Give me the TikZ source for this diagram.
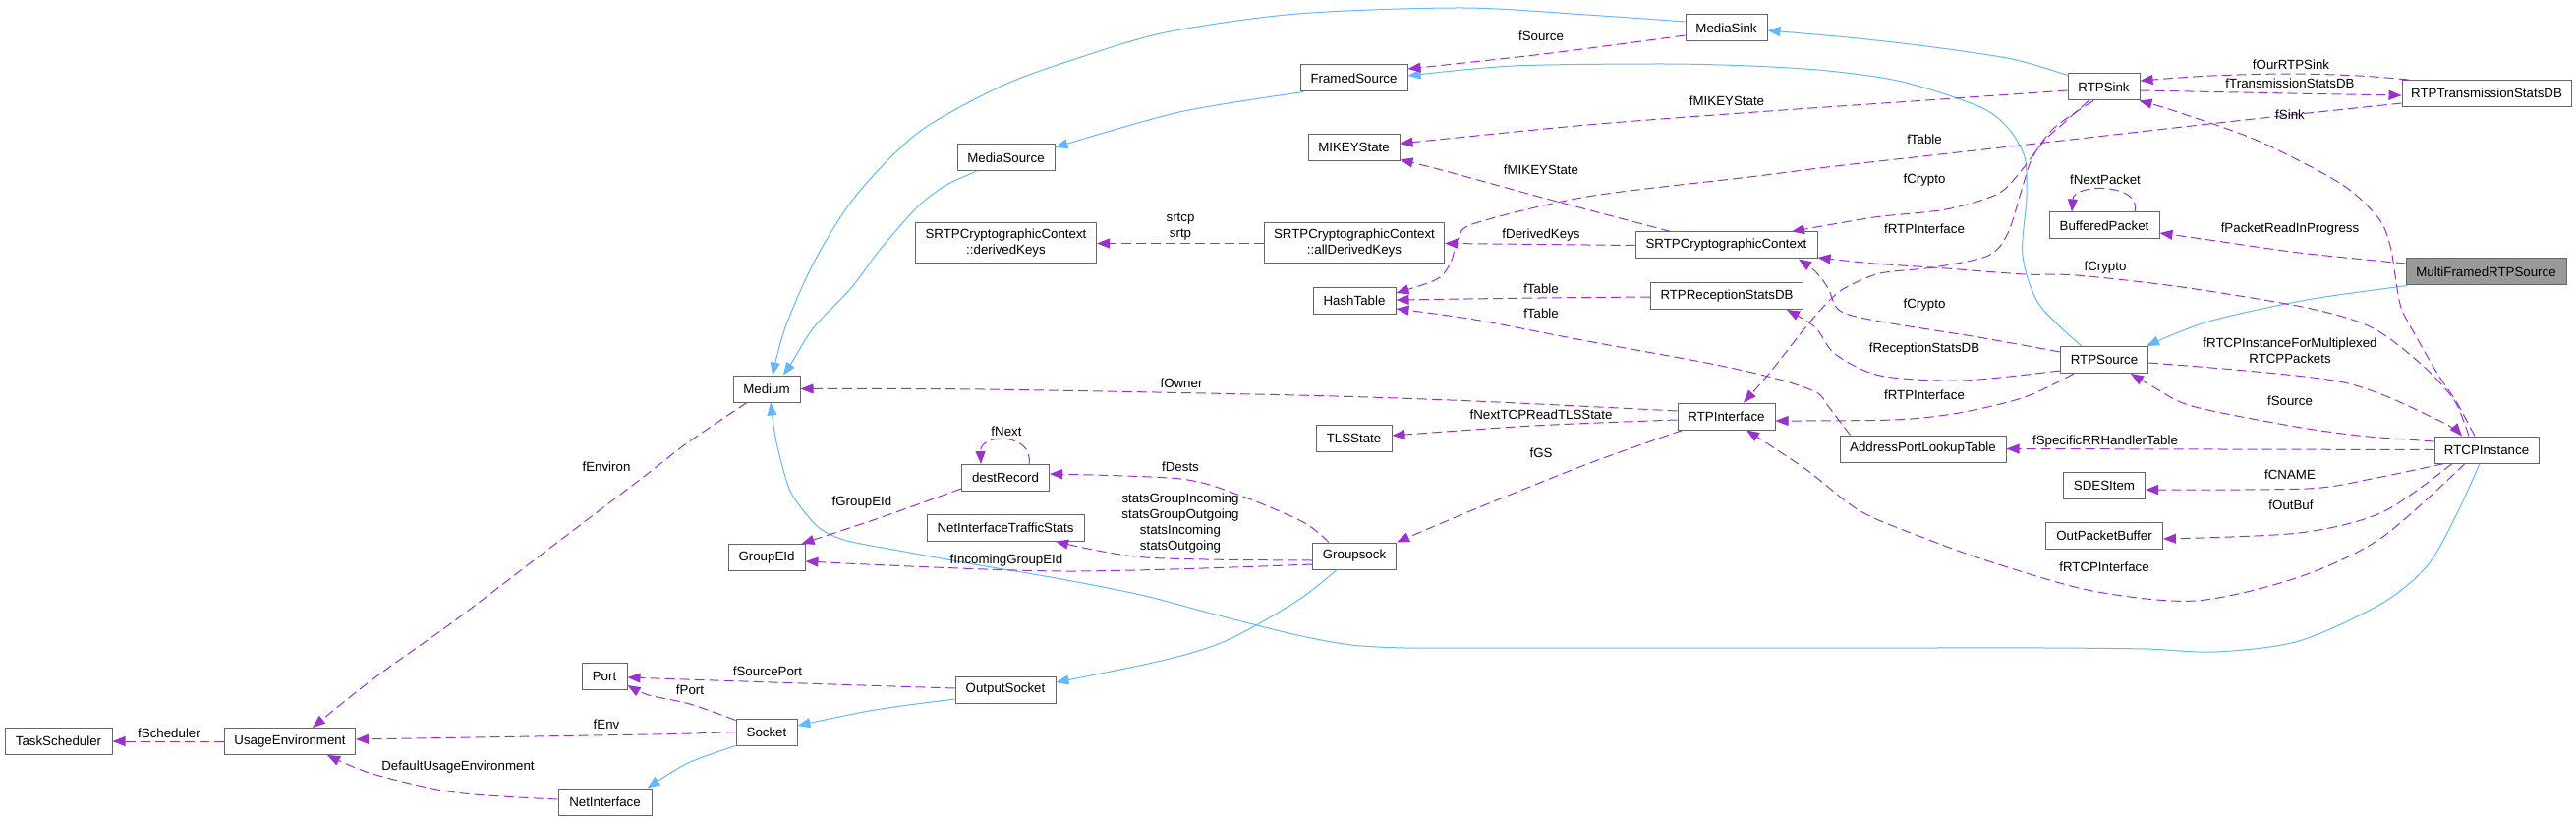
\documentclass[tikz,border=0pt]{standalone}
\usepackage{fontspec}
\setmainfont{Liberation Sans}
\usetikzlibrary{arrows.meta}
\definecolor{useC}{HTML}{9A32CD}
\definecolor{inhC}{HTML}{63B8FF}
\definecolor{bordC}{HTML}{666666}
\definecolor{curC}{HTML}{999999}
\newcommand{\dxfont}{\fontsize{13.3}{16}\selectfont}
\begin{document}
\begin{tikzpicture}[x=1pt,y=-1pt,
  cls/.style={draw=bordC, line width=1pt, rectangle, minimum height=27pt, inner sep=0pt, font=\dxfont, align=center},
  lbl/.style={font=\dxfont, inner sep=0pt, align=center},
  usedge/.style={draw=useC, line width=1pt, dash pattern=on 10pt off 5pt, -{Triangle[length=13pt,width=10pt]}},
  inhedge/.style={draw=inhC, line width=1pt, -{Triangle[length=13pt,width=10pt]}},
]
\fill[white] (0,0) rectangle (2621,834);
\useasboundingbox (0,0) rectangle (2621,834);

% nodes
\node[cls, minimum width=83pt] (MediaSink) at (1756.5,28.5) {MediaSink};
\node[cls, minimum width=109pt] (FramedSource) at (1377.5,79.5) {FramedSource};
\node[cls, minimum width=73pt] (RTPSink) at (2140.5,88.5) {RTPSink};
\node[cls, minimum width=172pt] (RTPTransmissionStatsDB) at (2530,95) {RTPTransmissionStatsDB};
\node[cls, minimum width=93pt] (MIKEYState) at (1377.5,150) {MIKEYState};
\node[cls, minimum width=99pt] (MediaSource) at (1023.5,160.5) {MediaSource};
\node[cls, minimum width=112pt] (BufferedPacket) at (2141,229.5) {BufferedPacket};
\node[cls, minimum width=184pt, minimum height=41pt] (derivedKeys) at (1023.5,247.5) {SRTPCryptographicContext\\::derivedKeys};
\node[cls, minimum width=183pt, minimum height=41pt] (allDerivedKeys) at (1378,247.5) {SRTPCryptographicContext\\::allDerivedKeys};
\node[cls, minimum width=185pt] (SRTP) at (1756.5,249.5) {SRTPCryptographicContext};
\node[cls, minimum width=163pt, fill=curC] (MultiFramedRTPSource) at (2529.5,276.5) {MultiFramedRTPSource};
\node[cls, minimum width=84pt] (HashTable) at (1378,306) {HashTable};
\node[cls, minimum width=155pt] (RTPReceptionStatsDB) at (1757,301) {RTPReceptionStatsDB};
\node[cls, minimum width=89pt] (RTPSource) at (2141,366) {RTPSource};
\node[cls, minimum width=68pt] (Medium) at (780,395.5) {Medium};
\node[cls, minimum width=77pt] (TLSState) at (1377.5,445.5) {TLSState};
\node[cls, minimum width=99pt] (RTPInterface) at (1756.5,423.5) {RTPInterface};
\node[cls, minimum width=169pt] (AddressPortLookupTable) at (1956.5,456.5) {AddressPortLookupTable};
\node[cls, minimum width=106pt] (RTCPInstance) at (2530,457.5) {RTCPInstance};
\node[cls, minimum width=89pt] (destRecord) at (1023,486) {destRecord};
\node[cls, minimum width=83pt] (SDESItem) at (2141,493.5) {SDESItem};
\node[cls, minimum width=160pt] (NetInterfaceTrafficStats) at (1023,536.5) {NetInterfaceTrafficStats};
\node[cls, minimum width=78pt] (GroupEId) at (780,567) {GroupEId};
\node[cls, minimum width=85pt] (Groupsock) at (1378,565.5) {Groupsock};
\node[cls, minimum width=119pt] (OutPacketBuffer) at (2141,544.5) {OutPacketBuffer};
\node[cls, minimum width=46pt] (Port) at (615,688) {Port};
\node[cls, minimum width=102pt] (OutputSocket) at (1023,701.5) {OutputSocket};
\node[cls, minimum width=109pt] (TaskScheduler) at (59.5,754) {TaskScheduler};
\node[cls, minimum width=133pt] (UsageEnvironment) at (295,754) {UsageEnvironment};
\node[cls, minimum width=62pt] (Socket) at (780,744.5) {Socket};
\node[cls, minimum width=95pt] (NetInterface) at (615.5,815.5) {NetInterface};

% inheritance edges
\draw[inhedge] plot[smooth] coordinates {([yshift=6.5pt]MediaSink.west) (1614,15) (1488,8) (1320,14) (1186,33) (1094,60) (1018,88) (934,135) (870,200) (828,267) (799,333) ([xshift=6pt]Medium.north)};
\draw[inhedge] plot[smooth] coordinates {([xshift=-30.5pt]MediaSource.south) (963,188) (934,210) (896,253) (866,293) (828,333) (806,368) ([xshift=17pt]Medium.north)};
\draw[inhedge] plot[smooth] coordinates {([xshift=-51pt]FramedSource.south) (1200,114) ([yshift=10.5pt]MediaSource.east)};
\draw[inhedge] plot[smooth] coordinates {([xshift=-23pt]RTPSource.north) (2075,310) (2058,260) (2062,200) (2060,160) (2043,130) (2013,108) (1935,83) (1860,72) (1780,67) (1690,65) (1540,67) ([yshift=2.5pt]FramedSource.east)};
\draw[inhedge] plot[smooth] coordinates {([yshift=-2pt]RTPSink.north west) (2047,60) (1960,47) (1880,38) ([yshift=-2.5pt]MediaSink.east)};
\draw[inhedge] plot[smooth] coordinates {([xshift=2pt]MultiFramedRTPSource.south west) (2347,305) (2247,327) ([xshift=-2pt]RTPSource.north east)};
\draw[inhedge] plot[smooth] coordinates {([xshift=-7pt]RTCPInstance.south) (2500,522) (2470,575) (2423,614) (2339,652) (2255,663) (2183,660) (2080,659) (1960,659) (1840,659) (1720,659) (1600,659) (1500,659) (1430,659) (1375,656) (1320,646) (1240,626) (1165,606) (1080,589) (997,575) (920,561) (862,550) (835,538) (818,520) (803,497) (790,450) ([xshift=4pt]Medium.south)};
\draw[inhedge] plot[smooth] coordinates {([xshift=-18pt]Groupsock.south) (1320,611) (1249,651) (1186,671) ([yshift=7.5pt]OutputSocket.east)};
\draw[inhedge] plot[smooth] coordinates {([yshift=-9.5pt]OutputSocket.west) (890,722) ([yshift=6.5pt]Socket.east)};
\draw[inhedge] plot[smooth] coordinates {(Socket.south west) (700,776) ([xshift=-5pt]NetInterface.north east)};

% usage edges
\draw[usedge] plot[smooth] coordinates {([yshift=-7.5pt]MediaSink.west) (1570,55) ([yshift=9.5pt]FramedSource.east)};
\draw[usedge] plot[smooth] coordinates {([yshift=-3.5pt]RTPSink.west) (1960,102) (1800,113) (1615,127) ([yshift=4pt]MIKEYState.east)};
\draw[usedge] plot[smooth] coordinates {([xshift=-56.5pt]SRTP.north) (1573,202) (1467,173) ([yshift=1.5pt]MIKEYState.south east)};
\draw[usedge] plot[smooth] coordinates {([xshift=7pt]RTPTransmissionStatsDB.north west) (2400,77) (2331,75) (2250,77) ([yshift=6.5pt]RTPSink.east)};
\draw[usedge] plot[smooth] coordinates {([yshift=-3.5pt]RTPSink.east) (2330,95) ([yshift=-2pt]RTPTransmissionStatsDB.west)};
\draw[usedge] plot[smooth] coordinates {([yshift=-10pt]RTPTransmissionStatsDB.west) (2330,117) (2230,128) (2063,147) (1947,160) (1859,170) (1780,180) (1615,200) (1501,227) (1484,242) (1476,267) (1462,284) ([yshift=8pt]HashTable.east)};
\draw[usedge] plot[smooth] coordinates {([xshift=-12pt]RTCPInstance.north) (2500,410) (2480,380) (2457,340) (2443,313) (2437,280) (2432,250) (2420,222) (2382,187) (2297,143) (2213,113) ([xshift=-1pt]RTPSink.south east)};
\draw[usedge] plot[smooth] coordinates {([yshift=8.5pt]MultiFramedRTPSource.west) (2339,257) (2255,245) ([yshift=-7.5pt]BufferedPacket.east)};
\draw[usedge] ([xshift=31pt]BufferedPacket.north) .. controls (2180,186) and (2110,186) .. ([xshift=-33pt]BufferedPacket.north);
\draw[usedge] plot[smooth] coordinates {([xshift=-15.5pt]RTPSink.south) (2100,125) (2080,143) (2057,173) (2033,197) (1980,213) (1907,221) ([xshift=66.5pt]SRTP.north)};
\draw[usedge] plot[smooth] coordinates {([xshift=-10.5pt]RTPSink.south) (2090,130) (2068,160) (2057,193) (2043,237) (2023,260) (1967,272) (1913,278) (1877,293) (1860,307) (1837,333) (1800,380) ([xshift=17.5pt]RTPInterface.north)};
\draw[usedge] plot[smooth] coordinates {([xshift=-18pt]RTCPInstance.north) (2497,407) (2463,370) (2413,333) (2347,313) (2220,292) (2113,280) (2060,279) (1980,273) (1907,268) ([yshift=-12.5pt]SRTP.east)};
\draw[usedge] plot[smooth] coordinates {([yshift=8pt]RTPSource.west) (2013,343) (1913,327) (1872,316) (1860,293) (1847,276) ([xshift=73.5pt]SRTP.south)};
\draw[usedge] plot[smooth] coordinates {([yshift=-11pt]RTPSource.west) (1997,387) (1913,382) (1867,360) (1847,333) ([xshift=61pt]RTPReceptionStatsDB.south)};
\draw[usedge] plot[smooth] coordinates {([xshift=-31pt]RTPSource.south) (2060,404) (1993,420) (1927,427) ([yshift=-4.5pt]RTPInterface.east)};
\draw[usedge] plot[smooth] coordinates {([yshift=5.5pt]RTPInterface.west) (1500,408) (1320,402) (1000,396) (Medium.east)};
\draw[usedge] plot[smooth] coordinates {([yshift=-3.5pt]RTPInterface.west) (1560,433) ([yshift=2.5pt]TLSState.east)};
\draw[usedge] plot[smooth] coordinates {([xshift=-44.5pt]RTPInterface.south) (1615,472) (1505,516) (Groupsock.north east)};
\draw[usedge] plot[smooth] coordinates {([yshift=-1pt]RTPReceptionStatsDB.west) (1568,303) ([yshift=1pt]HashTable.east)};
\draw[usedge] plot[smooth] coordinates {([xshift=11pt]AddressPortLookupTable.north west) (1860,413) (1848,399) (1807,385) (1741,370) (1615,347) (1500,325) ([yshift=-8pt]HashTable.east)};
\draw[usedge] (SRTP.west) -- (allDerivedKeys.east);
\draw[usedge] (allDerivedKeys.west) -- (derivedKeys.east);
\draw[usedge] plot[smooth] coordinates {([xshift=-20pt]Medium.south) (700,450) (660,481) (564,554) (463,631) (379,691) ([xshift=23pt]UsageEnvironment.north)};
\draw[usedge] (UsageEnvironment.west) -- (TaskScheduler.east);
\draw[usedge] plot[smooth] coordinates {(Socket.west) (660,747) ([yshift=2pt]UsageEnvironment.east)};
\draw[usedge] plot[smooth] coordinates {([yshift=2.5pt]NetInterface.west) (463,806) (379,787) ([xshift=38pt]UsageEnvironment.south)};
\draw[usedge] plot[smooth] coordinates {([yshift=1.5pt]OutputSocket.west) (786,694) ([yshift=-1pt]Port.east)};
\draw[usedge] plot[smooth] coordinates {([yshift=-2pt]Socket.north west) (702,716) (660,707) ([yshift=-9pt]Port.east)};
\draw[usedge] ([xshift=24pt]destRecord.north) .. controls (1052,440) and (997,440) .. ([xshift=-25pt]destRecord.north);
\draw[usedge] plot[smooth] coordinates {([yshift=-11pt]destRecord.west) (900,525) ([xshift=-4pt]GroupEId.north east)};
\draw[usedge] plot[smooth] coordinates {([xshift=-26pt]Groupsock.north) (1326,531) (1262,504) (1201,487) ([yshift=4pt]destRecord.east)};
\draw[usedge] plot[smooth] coordinates {([yshift=-4.5pt]Groupsock.west) (1165,567) ([xshift=51pt]NetInterfaceTrafficStats.south)};
\draw[usedge] plot[smooth] coordinates {([yshift=-8.5pt]Groupsock.west) (1081,581) ([yshift=-4pt]GroupEId.east)};
\draw[usedge] (RTCPInstance.west) -- (AddressPortLookupTable.east);
\draw[usedge] plot[smooth] coordinates {([xshift=-43pt]RTCPInstance.south) (2413,487) (2347,497) ([yshift=-4.5pt]SDESItem.east)};
\draw[usedge] plot[smooth] coordinates {([xshift=-35pt]RTCPInstance.south) (2424,521) (2339,542) ([yshift=-3.5pt]OutPacketBuffer.east)};
\draw[usedge] plot[smooth] coordinates {([xshift=-22pt]RTCPInstance.south) (2423,547) (2339,587) (2234,611) (2129,601) (2027,572) (1960,548) (1893,520) (1837,477) ([xshift=20.5pt]RTPInterface.south)};
\draw[usedge] plot[smooth] coordinates {([yshift=8.5pt]RTCPInstance.west) (2400,443) (2330,433) (2230,413) (2190,393) ([xshift=27pt]RTPSource.south)};
\draw[usedge] plot[smooth] coordinates {([yshift=-3pt]RTPSource.east) (2380,388) (2480,427) ([xshift=-25pt]RTCPInstance.north)};

% labels
\node[lbl] (l01) at (1568,37) {fSource};
\node[lbl] (l02) at (1757,103) {fMIKEYState};
\node[lbl] (l03) at (2331,66) {fOurRTPSink};
\node[lbl] (l04) at (2330,85) {fTransmissionStatsDB};
\node[lbl] (l05) at (2330,117) {fSink};
\node[lbl] (l06) at (1958,142) {fTable};
\node[lbl] (l07) at (1568,173) {fMIKEYState};
\node[lbl] (l08) at (2142,183) {fNextPacket};
\node[lbl] (l09) at (1958,183) {fCrypto};
\node[lbl] (l10) at (1958,233) {fRTPInterface};
\node[lbl] (l11) at (2330,233) {fPacketReadInProgress};
\node[lbl] (l12) at (1568,239) {fDerivedKeys};
\node[lbl] (l13) at (1201,231) {srtcp\\srtp};
\node[lbl] (l14) at (2142,272) {fCrypto};
\node[lbl] (l15) at (1568,294) {fTable};
\node[lbl] (l16) at (1958,310) {fCrypto};
\node[lbl] (l17) at (1568,319) {fTable};
\node[lbl] (l18) at (1958,355) {fReceptionStatsDB};
\node[lbl] (l19) at (2330,357) {fRTCPInstanceForMultiplexed\\RTCPPackets};
\node[lbl] (l20) at (1202,390) {fOwner};
\node[lbl] (l21) at (1958,402) {fRTPInterface};
\node[lbl] (l22) at (2330,408) {fSource};
\node[lbl] (l23) at (1568,422) {fNextTCPReadTLSState};
\node[lbl] (l24) at (1024,439) {fNext};
\node[lbl] (l25) at (2142,449) {fSpecificRRHandlerTable};
\node[lbl] (l26) at (1568,461) {fGS};
\node[lbl] (l27) at (617,475) {fEnviron};
\node[lbl] (l28) at (1201,475) {fDests};
\node[lbl] (l29) at (2330,483) {fCNAME};
\node[lbl] (l30) at (877,511) {fGroupEId};
\node[lbl] (l31) at (1201,532) {statsGroupIncoming\\statsGroupOutgoing\\statsIncoming\\statsOutgoing};
\node[lbl] (l32) at (2331,514) {fOutBuf};
\node[lbl] (l33) at (1024,570) {fIncomingGroupEId};
\node[lbl] (l34) at (2141,577) {fRTCPInterface};
\node[lbl] (l35) at (781,683) {fSourcePort};
\node[lbl] (l36) at (702,702) {fPort};
\node[lbl] (l37) at (617,737) {fEnv};
\node[lbl] (l38) at (172,746) {fScheduler};
\node[lbl] (l39) at (466,780) {DefaultUsageEnvironment};
\end{tikzpicture}
\end{document}
